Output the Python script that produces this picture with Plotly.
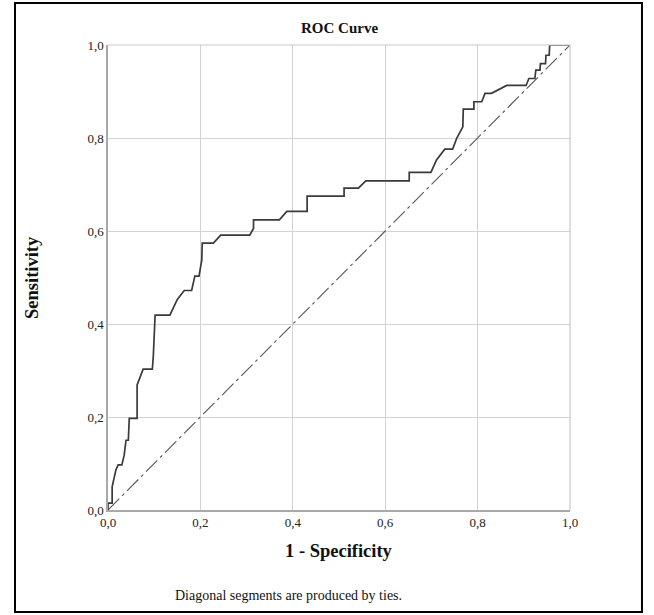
import plotly.graph_objects as go

# 1 - Specificity (false positive rate) and Sensitivity
fpr = [0, 0, 0.009, 0.009, 0.017, 0.022, 0.030, 0.035, 0.039, 0.044,
       0.046, 0.063, 0.063, 0.076, 0.096, 0.098, 0.102, 0.134, 0.150, 0.165,
       0.181, 0.188, 0.197, 0.200, 0.203, 0.204, 0.228, 0.244, 0.307, 0.315,
       0.315, 0.371, 0.387, 0.431, 0.431, 0.511, 0.511, 0.542, 0.558, 0.652,
       0.652, 0.699, 0.711, 0.729, 0.746, 0.755, 0.768, 0.769, 0.792, 0.792,
       0.809, 0.816, 0.830, 0.863, 0.905, 0.911, 0.924, 0.926, 0.935, 0.936,
       0.947, 0.948, 0.955, 0.956, 1.0]
tpr = [0, 0.015, 0.015, 0.05, 0.086, 0.097, 0.097, 0.118, 0.15, 0.15,
       0.197, 0.197, 0.269, 0.303, 0.303, 0.33, 0.419, 0.419, 0.453, 0.472,
       0.472, 0.503, 0.503, 0.523, 0.538, 0.574, 0.574, 0.591, 0.591, 0.606,
       0.624, 0.624, 0.642, 0.642, 0.675, 0.675, 0.692, 0.692, 0.708, 0.708,
       0.726, 0.726, 0.753, 0.776, 0.776, 0.800, 0.824, 0.862, 0.862, 0.878,
       0.878, 0.896, 0.896, 0.913, 0.913, 0.928, 0.928, 0.946, 0.946, 0.960,
       0.960, 0.978, 0.978, 1.0, 1.0]
ref_x = [0, 1]
ref_y = [0, 1]
tick_vals = [0, 0.2, 0.4, 0.6, 0.8, 1.0]
tick_text = ["0,0", "0,2", "0,4", "0,6", "0,8", "1,0"]

SERIF = "Liberation Serif, Times New Roman, serif"

fig = go.Figure()
fig.add_trace(go.Scatter(x=ref_x, y=ref_y, mode="lines",
                         line=dict(color="#555555", width=1.1, dash="16px,4px,3px,4px"),
                         hoverinfo="skip", showlegend=False))
fig.add_trace(go.Scatter(x=fpr, y=tpr, mode="lines",
                         line=dict(color="#3a3a3a", width=1.7),
                         showlegend=False))

axis_common = dict(range=[0, 1], tickvals=tick_vals, ticktext=tick_text,
                   showgrid=True, gridcolor="#d3d3d3", gridwidth=1,
                   showline=True, linecolor="#a8a8a8", linewidth=1.5,
                   zeroline=False, ticks="",
                   tickfont=dict(family=SERIF, size=13, color="#222222"))
fig.update_xaxes(**axis_common)
fig.update_yaxes(**axis_common)

fig.update_layout(
    width=654, height=615,
    margin=dict(l=108, r=84, t=45, b=105),
    paper_bgcolor="white", plot_bgcolor="white",
    showlegend=False,
    shapes=[dict(type="rect", xref="paper", yref="paper",
                 x0=-0.2013, x1=1.1558, y0=-0.2194, y1=1.0903,
                 line=dict(color="black", width=2), layer="below"),
            dict(type="line", xref="paper", yref="paper", x0=1, x1=1, y0=0, y1=1,
                 line=dict(color="#c8c8c8", width=1.2)),
            dict(type="line", xref="paper", yref="paper", x0=0, x1=1, y0=1, y1=1,
                 line=dict(color="#c8c8c8", width=1.2))],
    annotations=[
        dict(text="<b>ROC Curve</b>", xref="paper", yref="paper", x=0.5, y=1.0366,
             xanchor="center", yanchor="middle", showarrow=False,
             font=dict(family=SERIF, size=15, color="#111111")),
        dict(text="<b>1 - Specificity</b>", xref="paper", yref="paper", x=0.5, y=-0.088,
             xanchor="center", yanchor="middle", showarrow=False,
             font=dict(family=SERIF, size=18.5, color="#111111")),
        dict(text="<b>Sensitivity</b>", xref="paper", yref="paper", x=-0.1645, y=0.499,
             xanchor="center", yanchor="middle", showarrow=False, textangle=-90,
             font=dict(family=SERIF, size=18.5, color="#111111")),
        dict(text="Diagonal segments are produced by ties.", xref="paper", yref="paper",
             x=0.39, y=-0.183, xanchor="center", yanchor="middle", showarrow=False,
             font=dict(family=SERIF, size=14, color="#111111")),
    ],
)

fig.write_html("out.html", config={"displayModeBar": False},
               post_script="document.body.style.margin='0';document.body.style.overflow='hidden';")
